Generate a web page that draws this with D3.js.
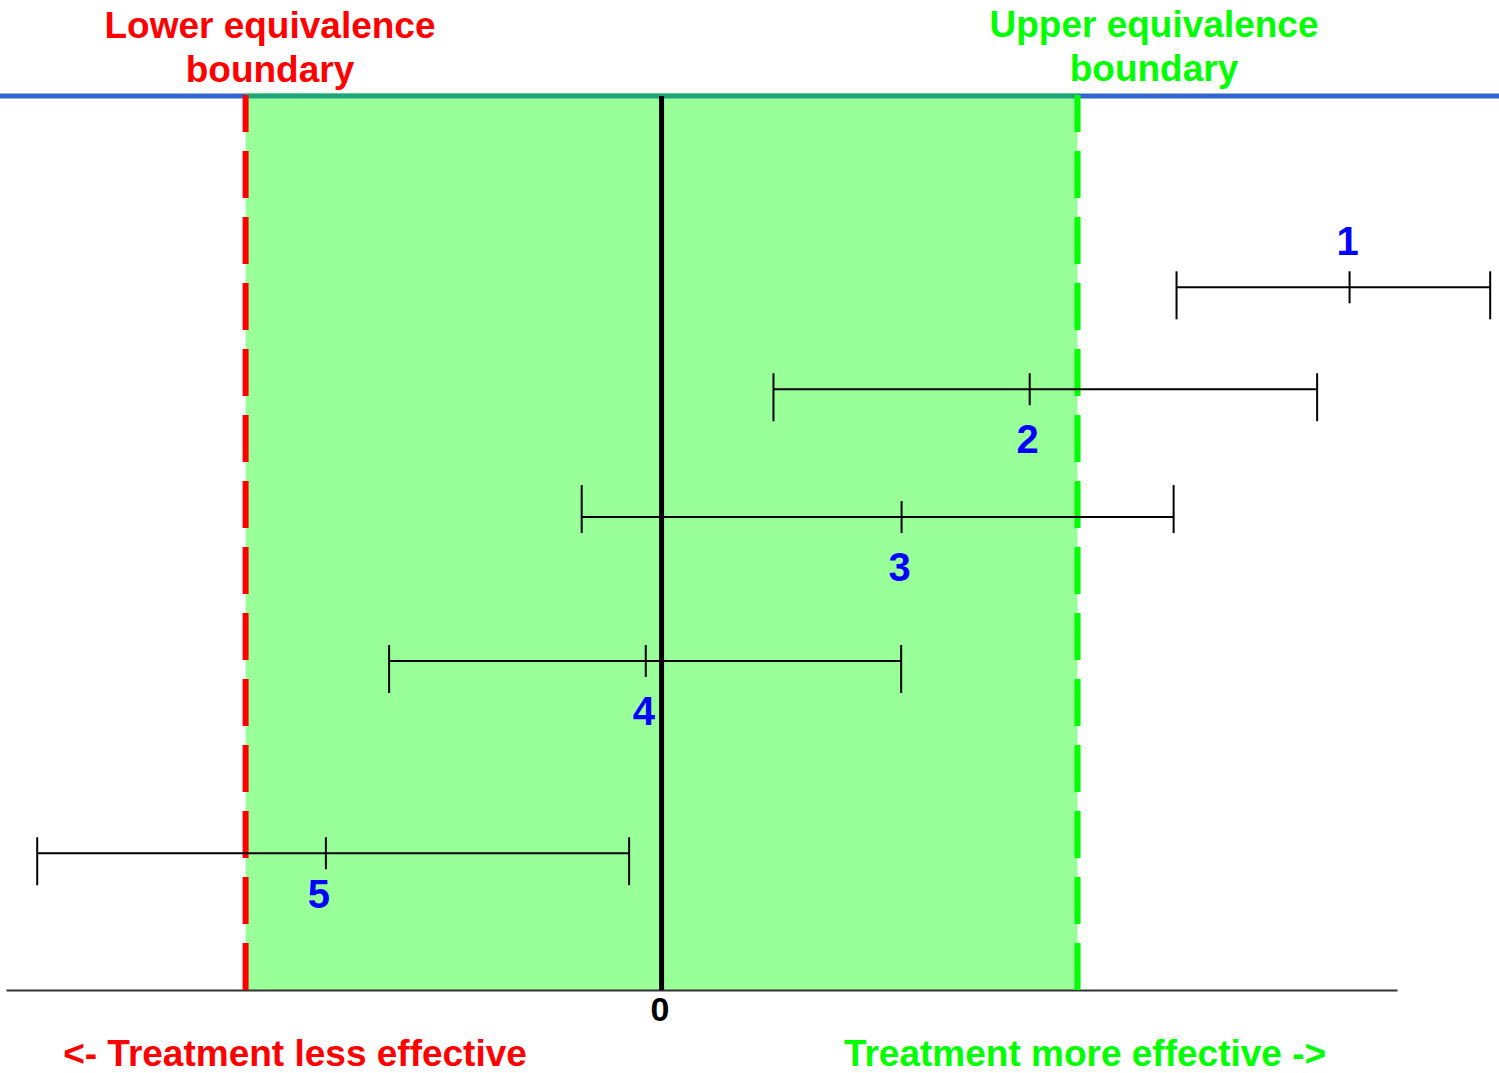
<!DOCTYPE html>
<html>
<head>
<meta charset="utf-8">
<script src="https://cdn.jsdelivr.net/npm/d3@7"></script>
<style>
    body { margin: 0; background: #fff; }
    svg { display: block; font-family: "Liberation Sans", Arial, sans-serif; font-weight: bold; }
</style>
</head>
<body>
<svg id="chart"></svg>
<script>
// data (x in units of the equivalence margin, y is the row height on a 0-100 scale)
const studies = ['1', '2', '3', '4', '5'];
const lower = [1.238, 0.269, -0.192, -0.655, -1.501];
const estimate = [1.654, 0.885, 0.577, -0.038, -0.807];
const upper = [1.992, 1.576, 1.231, 0.576, -0.078];
const rowY = [78.6, 67.2, 52.9, 36.8, 15.3];
const labelSide = ['above', 'below', 'below', 'below', 'below'];
const boundaries = [-1, 1];
const xTicks = [0];

class EquivalencePlot {
    constructor( config, data ) {
        this.config = {
            parent: config.parent,
            width: config.width || 1499,
            height: config.height || 1073,
        }
        this.data = data;
        this.init();
    }

    init() {
        let self = this;
        self.svg = d3.select( self.config.parent )
            .attr('width', self.config.width)
            .attr('height', self.config.height);
        self.xscale = d3.scaleLinear()
            .domain( [-1.576, 1.768] )
            .range( [6, 1397] );
        self.yscale = d3.scaleLinear()
            .domain( [0, 100] )
            .range( [990, 96] );
        self.xaxis = d3.axisBottom( self.xscale )
            .tickValues( xTicks )
            .tickFormat( d3.format('d') )
            .tickSize(0)
            .tickSizeOuter(0)
            .tickPadding(7);
        self.render();
    }

    render() {
        let self = this;
        const x = self.xscale, y = self.yscale;
        const top = y(100), bottom = y(0);

        // blue line along the top
        self.svg.append('line')
            .attr('x1', 0).attr('x2', self.config.width)
            .attr('y1', top).attr('y2', top)
            .attr('stroke', '#3366cc')
            .attr('stroke-width', 5);

        // equivalence region
        self.svg.append('rect')
            .attr('x', x(boundaries[0]))
            .attr('y', top - 3)
            .attr('width', x(boundaries[1]) - x(boundaries[0]))
            .attr('height', bottom - top + 3)
            .attr('fill', '#00ff00')
            .attr('fill-opacity', 0.4);

        // x axis
        const axis = self.svg.append('g')
            .attr('transform', `translate(0, ${bottom})`)
            .call( self.xaxis )
            .attr('font-family', '"Liberation Sans", Arial, sans-serif')
            .attr('font-size', 34)
            .attr('font-weight', 'bold');
        axis.select('.domain')
            .attr('stroke', '#333')
            .attr('stroke-width', 2);
        axis.selectAll('text')
            .attr('fill', '#000')
            .attr('dx', '-2');

        // zero line
        self.svg.append('line')
            .attr('x1', x(0)).attr('x2', x(0))
            .attr('y1', top).attr('y2', bottom)
            .attr('stroke', '#000')
            .attr('stroke-width', 5);

        // boundary dashed lines
        const bcolor = ['#ff0000', '#00ff00'];
        self.svg.selectAll('.boundary')
            .data(boundaries)
            .join('line')
            .attr('class', 'boundary')
            .attr('x1', d => x(d)).attr('x2', d => x(d))
            .attr('y1', top - 1).attr('y2', bottom)
            .attr('stroke', (d, i) => bcolor[i])
            .attr('stroke-width', 6)
            .attr('stroke-dasharray', '47,19')
            .attr('stroke-dashoffset', 10);

        // confidence intervals
        const rows = self.svg.selectAll('.study')
            .data(self.data)
            .join('g')
            .attr('class', 'study')
            .attr('transform', d => `translate(0, ${y(d.y)})`);
        rows.append('line')
            .attr('x1', d => x(d.lo)).attr('x2', d => x(d.hi))
            .attr('stroke', '#000').attr('stroke-width', 2);
        // end caps hang downward, except row 3 where they point up
        rows.selectAll('.cap')
            .data((d, i) => [d.lo, d.hi].map(v => ({ v: v, up: i === 2 })))
            .join('line')
            .attr('class', 'cap')
            .attr('x1', d => x(d.v)).attr('x2', d => x(d.v))
            .attr('y1', d => d.up ? -32 : -16)
            .attr('y2', d => d.up ? 16 : 32)
            .attr('stroke', '#000').attr('stroke-width', 2);
        rows.append('line')
            .attr('x1', d => x(d.est)).attr('x2', d => x(d.est))
            .attr('y1', -16).attr('y2', 16)
            .attr('stroke', '#000').attr('stroke-width', 2);
        rows.append('text')
            .attr('x', d => x(d.est) - (d.name === '5' ? 7 : 2))
            .attr('y', d => d.side === 'above' ? -32 : (d.name === '5' ? 55 : 64))
            .attr('text-anchor', 'middle')
            .attr('fill', '#0000ff')
            .style('font-size', '40px')
            .text(d => d.name);

        // boundary titles
        const titles = [
            { lines: ['Lower equivalence', 'boundary'], cx: 270, color: '#ff0000', y0: 38 },
            { lines: ['Upper equivalence', 'boundary'], cx: 1154, color: '#00ff00', y0: 37 },
        ];
        titles.forEach(t => {
            t.lines.forEach((s, j) => {
                self.svg.append('text')
                    .attr('x', t.cx)
                    .attr('y', t.y0 + j * 44)
                    .attr('text-anchor', 'middle')
                    .attr('fill', t.color)
                    .style('font-size', '37px')
                    .text(s);
            });
        });

        // direction notes
        self.svg.append('text')
            .attr('x', 295).attr('y', 1066)
            .attr('text-anchor', 'middle')
            .attr('fill', '#ff0000')
            .style('font-size', '37px')
            .text('<- Treatment less effective');
        self.svg.append('text')
            .attr('x', 1085).attr('y', 1066)
            .attr('text-anchor', 'middle')
            .attr('fill', '#00ff00')
            .style('font-size', '37px')
            .text('Treatment more effective ->');
    }
}

const data = studies.map((s, i) => ({
    name: s, lo: lower[i], est: estimate[i], hi: upper[i], y: rowY[i], side: labelSide[i]
}));
new EquivalencePlot({ parent: '#chart', width: 1499, height: 1073 }, data);
</script>
</body>
</html>
